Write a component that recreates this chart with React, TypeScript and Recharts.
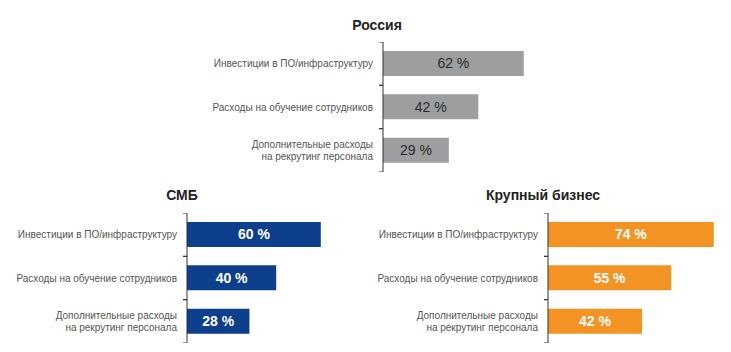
import React from 'react';
import { BarChart, Bar, XAxis, YAxis, LabelList } from 'recharts';

const categories = [
  'Инвестиции в ПО/инфраструктуру',
  'Расходы на обучение сотрудников',
  'Дополнительные расходы\nна рекрутинг персонала',
];
const russiaValues = [62, 42, 29];
const smbValues = [60, 40, 28];
const largeValues = [74, 55, 42];

const FONT = '"Liberation Sans", Arial, sans-serif';

// category boundary ticks + right aligned (multi-line) labels
const makeTick = (axisW: number, band: number) => (props: any) => {
  const { y, payload } = props;
  const lines = String(payload.value).split('\n');
  const lh = 11.5;
  const y0 = y - ((lines.length - 1) * lh) / 2;
  return (
    <g>
      <line x1={axisW - 4} x2={axisW} y1={y - band / 2} y2={y - band / 2} stroke="#333" />
      <line x1={axisW - 4} x2={axisW} y1={y + band / 2} y2={y + band / 2} stroke="#333" />
      <text textAnchor="end" fontFamily={FONT} fontSize={10} fill="#555">
        {lines.map((l, i) => (
          <tspan key={i} x={axisW - 10} y={y0 + i * lh} dy="0.35em">
            {l}
          </tspan>
        ))}
      </text>
    </g>
  );
};

interface PanelProps {
  title: string;
  values: number[];
  color: string;
  labelColor: string;
  labelWeight: number | string;
  left: number;
  top: number;
  axisW: number;
  plotW: number;
  titleX: number;
  titleY: number;
}

const Panel: React.FC<PanelProps> = ({ title, values, color, labelColor, labelWeight, left, top, axisW, plotW, titleX, titleY }) => {
  const height = 130;
  const data = categories.map((name, i) => ({ name, value: values[i] }));
  return (
    <>
      <div
        style={{
          position: 'absolute',
          left: titleX - 100,
          top: titleY - 10,
          width: 200,
          textAlign: 'center',
          font: `bold 14px ${FONT}`,
          lineHeight: '20px',
          color: '#222',
        }}
      >
        {title}
      </div>
      <div style={{ position: 'absolute', left, top }}>
        <BarChart
          width={axisW + plotW}
          height={height}
          data={data}
          layout="vertical"
          margin={{ top: 0, right: 0, bottom: 0, left: 0 }}
        >
          <XAxis type="number" domain={[0, 100]} hide />
          <YAxis
            type="category"
            dataKey="name"
            width={axisW}
            axisLine={{ stroke: '#333' }}
            tickLine={false}
            interval={0}
            tick={makeTick(axisW, height / 3)}
          />
          <Bar dataKey="value" fill={color} barSize={25} isAnimationActive={false}>
            <LabelList
              dataKey="value"
              position="center"
              formatter={(v: number) => `${v} %`}
              fill={labelColor}
              fontSize={14}
              fontWeight={labelWeight}
              fontFamily={FONT}
            />
          </Bar>
        </BarChart>
      </div>
    </>
  );
};

export default function App() {
  return (
    <div style={{ position: 'absolute', left: 0, top: 0, width: 731, height: 352, background: '#fff' }}>
      <Panel title="Россия" values={russiaValues} color="#9c9ea0" labelColor="#2b2b2b" labelWeight="normal"
        left={190} top={42} axisW={193} plotW={227} titleX={377} titleY={25} />
      <Panel title="СМБ" values={smbValues} color="#0d3f8c" labelColor="#ffffff" labelWeight="bold"
        left={0} top={213} axisW={187} plotW={223} titleX={182} titleY={195} />
      <Panel title="Крупный бизнес" values={largeValues} color="#f39323" labelColor="#ffffff" labelWeight="bold"
        left={360} top={213} axisW={188} plotW={224} titleX={543} titleY={195} />
    </div>
  );
}
